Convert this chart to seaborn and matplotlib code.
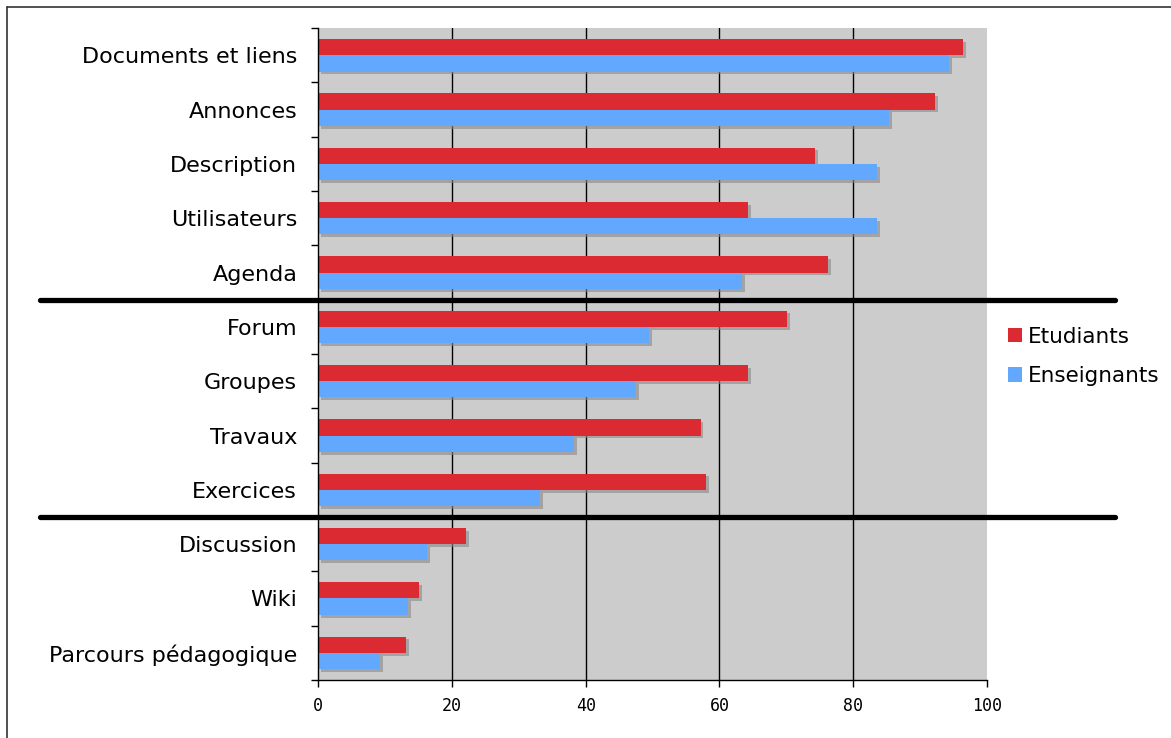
import pandas as pd
import numpy as np
import matplotlib.pyplot as plt
import matplotlib.patheffects as pe
from matplotlib.lines import Line2D
from matplotlib.patches import Patch
import seaborn as sns

# Data
categories = ["Documents et liens", "Annonces", "Description", "Utilisateurs", "Agenda",
              "Forum", "Groupes", "Travaux", "Exercices",
              "Discussion", "Wiki", "Parcours pédagogique"]
etudiants = [96.4, 92.2, 74.3, 64.3, 76.2, 70.1, 64.3, 57.2, 58.0, 22.1, 15.1, 13.2]
enseignants = [94.3, 85.4, 83.6, 83.6, 63.4, 49.5, 47.5, 38.3, 33.2, 16.3, 13.5, 9.3]
series = ["Etudiants", "Enseignants"]
colors = ["#dc2a32", "#62a8ff"]
separators = [4.5, 8.5]

df = pd.DataFrame({"Outil": categories * 2,
                   "Valeur": etudiants + enseignants,
                   "Groupe": [series[0]] * len(categories) + [series[1]] * len(categories)})

sns.set_style("white")
plt.rcParams["font.family"] = ["DejaVu Sans"]
plt.rcParams["text.color"] = "black"
plt.rcParams["xtick.color"] = "black"
plt.rcParams["ytick.color"] = "black"

fig = plt.figure(figsize=(11.71, 7.38), dpi=100)
ax = fig.add_axes([0.2716, 0.0786, 0.5713, 0.8834])
ax.set_facecolor("#cccccc")

sns.barplot(data=df, y="Outil", x="Valeur", hue="Groupe", palette=colors,
            orient="h", width=0.6, ax=ax, legend=False, saturation=1)

for p in ax.patches:
    p.set_edgecolor("none")
    p.set_path_effects([pe.SimplePatchShadow(offset=(2, -2), shadow_rgbFace="#888888", alpha=0.6),
                        pe.Normal()])

ax.set_xlim(0, 100)
ax.set_ylim(len(categories) - 0.5, -0.5)
ax.set_xticks([0, 20, 40, 60, 80, 100])
ax.set_xticklabels(["0", "20", "40", "60", "80", "100"], family="DejaVu Sans Mono", fontsize=12)
ax.set_yticks(range(len(categories)))
ax.set_yticklabels(categories, fontsize=16)
ax.set_yticks(np.arange(-0.5, len(categories), 1), minor=True)
ax.tick_params(axis="y", which="major", left=False, length=0, pad=15)
ax.tick_params(axis="y", which="minor", left=True, length=5, width=1, color="black", direction="out")
ax.tick_params(axis="x", bottom=True, length=5, width=1, color="black", direction="out", pad=7)
ax.set_xlabel("")
ax.set_ylabel("")

for x in [20, 40, 60, 80]:
    ax.axvline(x, color="black", linewidth=1, zorder=0.5)

for s in ["top", "right"]:
    ax.spines[s].set_visible(False)
ax.spines["left"].set_color("black")
ax.spines["bottom"].set_color("black")
ax.spines["left"].set_linewidth(1)
ax.spines["bottom"].set_linewidth(1)

# thick separator lines that run past the plot area
for y in separators:
    line = Line2D([-0.4155, 1.191], [y, y], color="black", linewidth=3.8,
                  transform=ax.get_yaxis_transform(), clip_on=False, zorder=5)
    ax.add_line(line)

handles = [Patch(facecolor=c, edgecolor="none") for c in colors]
fig.legend(handles, series, loc="upper left", bbox_to_anchor=(0.852, 0.572),
           frameon=False, fontsize=15.5, handlelength=0.65, handleheight=0.65,
           handletextpad=0.25, labelspacing=0.9, borderpad=0)

# frame lines on the top and left edge of the picture
fig.add_artist(Line2D([0.006, 1], [0.991, 0.991], color="#333333", linewidth=1.2, transform=fig.transFigure))
fig.add_artist(Line2D([0.006, 0.006], [0, 0.991], color="#333333", linewidth=1.2, transform=fig.transFigure))

fig.savefig("out.png", dpi=100)
